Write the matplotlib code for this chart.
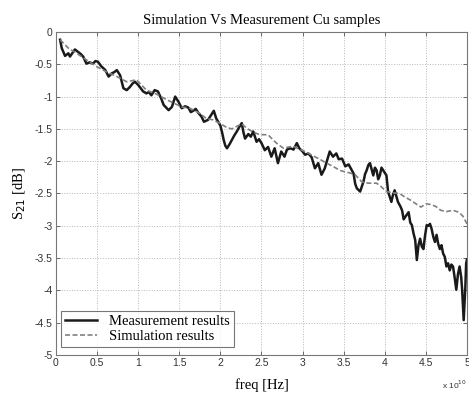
import matplotlib
matplotlib.use("Agg")
import matplotlib.pyplot as plt
from matplotlib.ticker import MultipleLocator, FormatStrFormatter

# frequency in units of 1e10 Hz, S21 in dB
meas_x = [0.05, 0.07, 0.11, 0.15, 0.17, 0.23, 0.25, 0.30, 0.33, 0.37, 0.41, 0.45,
          0.48, 0.51, 0.55, 0.60, 0.64, 0.68, 0.71, 0.74, 0.78, 0.82, 0.86, 0.90,
          0.93, 0.96, 1.00, 1.06, 1.10, 1.13, 1.16, 1.20, 1.24, 1.28, 1.31, 1.34,
          1.37, 1.41, 1.45, 1.49, 1.53, 1.57, 1.61, 1.64, 1.67, 1.70, 1.73, 1.77,
          1.80, 1.85, 1.88, 1.92, 1.95, 2.00, 2.02, 2.04, 2.06, 2.08, 2.11, 2.14,
          2.17, 2.20, 2.23, 2.26, 2.28, 2.30, 2.34, 2.37, 2.40, 2.44, 2.47, 2.50,
          2.54, 2.58, 2.62, 2.66, 2.70, 2.74, 2.78, 2.81, 2.85, 2.89, 2.93, 2.96,
          3.00, 3.03, 3.07, 3.11, 3.15, 3.19, 3.23, 3.27, 3.30, 3.33, 3.37, 3.41,
          3.44, 3.48, 3.52, 3.56, 3.59, 3.62, 3.64, 3.66, 3.70, 3.74, 3.76, 3.78,
          3.80, 3.82, 3.86, 3.88, 3.90, 3.92, 3.94, 3.96, 3.98, 4.02, 4.04, 4.08,
          4.10, 4.12, 4.16, 4.19, 4.21, 4.23, 4.25, 4.29, 4.31, 4.33, 4.35, 4.37,
          4.39, 4.41, 4.43, 4.45, 4.47, 4.49, 4.51, 4.53, 4.55, 4.57, 4.59, 4.61,
          4.63, 4.65, 4.67, 4.69, 4.71, 4.73, 4.75, 4.77, 4.79, 4.81, 4.83, 4.85,
          4.87, 4.89, 4.91, 4.93, 4.94, 4.96, 4.98, 4.99, 5.00]
meas_y = [-0.12, -0.25, -0.37, -0.33, -0.38, -0.27, -0.29, -0.34, -0.38, -0.49, -0.47, -0.49,
          -0.45, -0.46, -0.53, -0.59, -0.69, -0.64, -0.62, -0.59, -0.67, -0.87, -0.90, -0.85,
          -0.80, -0.77, -0.82, -0.92, -0.95, -0.93, -0.98, -0.90, -0.92, -1.03, -1.13, -1.17,
          -1.21, -1.16, -1.00, -1.08, -1.18, -1.15, -1.17, -1.24, -1.22, -1.19, -1.25, -1.31,
          -1.39, -1.36, -1.30, -1.22, -1.34, -1.45, -1.55, -1.67, -1.76, -1.80, -1.74, -1.67,
          -1.60, -1.54, -1.47, -1.41, -1.55, -1.65, -1.58, -1.62, -1.54, -1.70, -1.66, -1.72,
          -1.83, -1.78, -1.93, -1.80, -2.03, -1.85, -1.93, -1.82, -1.80, -1.82, -1.72, -1.80,
          -1.85, -1.90, -1.88, -1.94, -2.11, -2.03, -2.21, -2.11, -1.98, -1.85, -1.93, -1.88,
          -1.97, -1.96, -2.08, -2.05, -2.12, -2.19, -2.35, -2.42, -2.47, -2.32, -2.20, -2.14,
          -2.06, -2.03, -2.22, -2.10, -2.14, -2.28, -2.22, -2.10, -2.14, -2.22, -2.47, -2.63,
          -2.52, -2.45, -2.63, -2.70, -2.76, -2.90, -2.86, -2.79, -2.95, -2.99, -3.12, -3.22,
          -3.53, -3.30, -3.20, -3.32, -3.36, -3.15, -2.99, -3.00, -2.97, -3.05, -3.17, -3.25,
          -3.14, -3.28, -3.36, -3.30, -3.43, -3.48, -3.63, -3.58, -3.69, -3.60, -3.63, -3.80,
          -3.99, -3.75, -3.63, -3.80, -3.97, -4.46, -3.95, -3.58, -3.52]

sim_x = [0.05, 0.15, 0.25, 0.38, 0.50, 0.62, 0.74, 0.86, 0.98, 1.10, 1.22, 1.35,
         1.43, 1.53, 1.63, 1.75, 1.83, 1.91, 2.00, 2.08, 2.14, 2.20, 2.26, 2.32,
         2.40, 2.48, 2.58, 2.64, 2.70, 2.77, 2.83, 2.89, 2.97, 3.05, 3.13, 3.21,
         3.29, 3.37, 3.45, 3.50, 3.57, 3.64, 3.72, 3.80, 3.90, 3.96, 4.02, 4.10,
         4.18, 4.25, 4.31, 4.38, 4.44, 4.50, 4.56, 4.62, 4.68, 4.75, 4.83, 4.90,
         4.95, 5.00]
sim_y = [-0.12, -0.25, -0.33, -0.44, -0.54, -0.62, -0.69, -0.77, -0.74, -0.90, -0.96, -1.05,
         -1.10, -1.16, -1.18, -1.26, -1.34, -1.36, -1.42, -1.48, -1.50, -1.46, -1.42, -1.49,
         -1.55, -1.59, -1.59, -1.67, -1.74, -1.80, -1.78, -1.77, -1.82, -1.86, -1.92, -1.97,
         -2.03, -2.08, -2.14, -2.16, -2.18, -2.21, -2.32, -2.34, -2.34, -2.40, -2.47, -2.49,
         -2.50, -2.56, -2.60, -2.66, -2.71, -2.66, -2.67, -2.70, -2.76, -2.78, -2.76, -2.79,
         -2.85, -2.97]

plt.rcParams['axes.unicode_minus'] = False
serif = ['Liberation Serif', 'DejaVu Serif']
sans = ['Liberation Sans', 'DejaVu Sans']

fig = plt.figure(figsize=(4.69, 3.94), dpi=100)
ax = fig.add_axes([0.1194, 0.099, 0.8763, 0.8198])

ax.plot(meas_x, meas_y, color='#1a1a1a', lw=1.8, label='Measurement results')
ax.plot(sim_x, sim_y, color='#808080', lw=1.2, ls=(0, (3, 1.5)), label='Simulation results')

ax.set_xlim(0, 5)
ax.set_ylim(-5, 0)
ax.xaxis.set_major_locator(MultipleLocator(0.5))
ax.yaxis.set_major_locator(MultipleLocator(0.5))
ax.xaxis.set_major_formatter(FormatStrFormatter('%g'))
ax.yaxis.set_major_formatter(FormatStrFormatter('%g'))
ax.tick_params(direction='in', length=3, width=0.6, labelsize=7.5, colors='#555555',
               labelcolor='#333333', top=True, right=True, pad=2.5)
for lab in ax.get_xticklabels() + ax.get_yticklabels():
    lab.set_family(sans)
ax.grid(True, color='#b8b8b8', ls=':', lw=0.7)
for sp in ax.spines.values():
    sp.set_color('#777777')
    sp.set_linewidth(0.8)

ax.set_title('Simulation Vs Measurement Cu samples', family=serif, fontsize=10.5, pad=6)
ax.set_xlabel('freq [Hz]', family=serif, fontsize=10.5, labelpad=7)
ax.set_ylabel('S$_{21}$ [dB]', family=serif, fontsize=10.5, labelpad=5)
ax.text(1.0, -0.072, 'x 10$^{10}$', transform=ax.transAxes, ha='right', va='top',
        fontsize=6, family=sans, color='#333333')

leg = ax.legend(loc='lower left', bbox_to_anchor=(0.005, 0.015), prop={'family': serif, 'size': 10.5},
                frameon=True, fancybox=False, handlelength=2.2, borderpad=0.3,
                labelspacing=0.1, handletextpad=0.8, borderaxespad=0.2)
leg.get_frame().set_edgecolor('#555555')
leg.get_frame().set_linewidth(0.8)

fig.savefig('out.png', dpi=100)
